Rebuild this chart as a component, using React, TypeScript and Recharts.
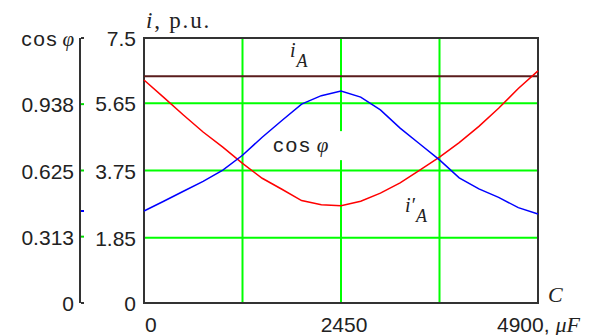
import React from 'react';
import {
  ComposedChart,
  Line,
  XAxis,
  YAxis,
  CartesianGrid,
  ReferenceArea,
  ReferenceLine,
  ReferenceDot,
} from 'recharts';

// capacitance C, µF
const capacitance = [0, 245, 490, 735, 980, 1225, 1470, 1715, 1960, 2205, 2450, 2695, 2940, 3185, 3430, 3675, 3920, 4165, 4410, 4655, 4900];
// line current after compensation i'A, p.u.
const currentPrime = [6.31, 5.82, 5.32, 4.84, 4.41, 3.95, 3.53, 3.22, 2.9, 2.78, 2.75, 2.88, 3.11, 3.4, 3.76, 4.13, 4.54, 5.0, 5.51, 6.07, 6.57];
// power factor cos φ
const powerFactor = [0.434, 0.48, 0.527, 0.574, 0.627, 0.697, 0.782, 0.861, 0.938, 0.978, 1.0, 0.971, 0.911, 0.825, 0.75, 0.675, 0.59, 0.538, 0.498, 0.45, 0.42];
// load current iA, p.u.
const supplyCurrent = 6.42;

const xTicks = [0, 1225, 2450, 3675, 4900];
const xTickLabels = ['0', '', '2450', '', '4900, '];
const currentTicks = [0, 1.85, 3.75, 5.65, 7.5];
const currentTickLabels = ['0', '1.85', '3.75', '5.65', '7.5'];
const cosTicks = [0, 0.313, 0.625, 0.938, 1.25];
const cosTickLabels = ['0', '0.313', '0.625', '0.938', 'cos'];

const rows = capacitance.map((c, i) => ({ c, iPrime: currentPrime[i], cosPhi: powerFactor[i] }));

const SANS = '"Liberation Sans", Arial, sans-serif';
const SERIF = '"Liberation Serif", "Times New Roman", serif';
const TEXT = '#222';

const XTick = ({ x, y, payload }: any) => {
  const idx = xTicks.indexOf(payload.value);
  const label = xTickLabels[idx];
  if (!label) return <g />;
  if (idx === xTicks.length - 1) {
    return (
      <text x={x - 41} y={y + 29} fontFamily={SANS} fontSize={21} fill={TEXT}>
        {label}
        <tspan fontFamily={SERIF} fontStyle="italic" fontSize={22}>μF</tspan>
      </text>
    );
  }
  return (
    <text x={idx === 0 ? x + 1 : x + 3} y={y + 29} textAnchor={idx === 0 ? 'start' : 'middle'} fontFamily={SANS} fontSize={21} fill={TEXT}>
      {label}
    </text>
  );
};

const CurrentTick = ({ x, y, payload }: any) => {
  const idx = currentTicks.indexOf(payload.value);
  return (
    <text x={x - 8} y={y + 8} textAnchor="end" fontFamily={SANS} fontSize={21} fill={TEXT}>
      {currentTickLabels[idx]}
    </text>
  );
};

const CosTick = ({ x, y, payload }: any) => {
  const v = payload.value;
  // start value of cos φ is marked on the axis in the curve colour
  if (v === powerFactor[0]) {
    return <line x1={x + 1} x2={x + 4} y1={y} y2={y} stroke="#0000ff" strokeWidth={2} />;
  }
  const idx = cosTicks.indexOf(v);
  const edge = idx === 0 || idx === cosTicks.length - 1;
  return (
    <g>
      <line x1={x + 1} x2={x + 4} y1={y} y2={y} stroke={edge ? '#333' : '#00dd00'} strokeWidth={2} />
      <text x={x - 6} y={y + 8} textAnchor="end" fontFamily={SANS} fontSize={21} fill={TEXT}>
        <tspan letterSpacing={edge && idx > 0 ? 1.5 : 0}>{cosTickLabels[idx]}</tspan>
        {edge && idx > 0 && (
          <tspan fontFamily={SERIF} fontStyle="italic" dx={4}>φ</tspan>
        )}
      </text>
    </g>
  );
};

const CurrentTitle = ({ viewBox }: any) => (
  <text x={viewBox.x + viewBox.width + 2} y={viewBox.y - 10} fontFamily={SERIF} fontSize={23} letterSpacing={1.8} fill={TEXT}>
    <tspan fontStyle="italic">i</tspan>, p.u.
  </text>
);

const AxisC = ({ viewBox }: any) => (
  <text x={viewBox.x + viewBox.width + 10} y={viewBox.y - 1} fontFamily={SERIF} fontStyle="italic" fontSize={22} fill={TEXT}>
    C
  </text>
);

const SubscriptLabel = ({ cx, cy, prime }: any) => (
  <text x={cx} y={cy} fontFamily={SERIF} fontStyle="italic" fontSize={20} fill={TEXT}>
    i{prime ? '′' : ''}
    <tspan dx={1} dy={10} fontSize={18}>A</tspan>
  </text>
);

const CosLabel = ({ cx, cy }: any) => (
  <g>
    <rect x={cx + 1} y={cy - 21} width={70} height={29} fill="#fff" />
    <text x={cx} y={cy} fontFamily={SANS} fontSize={21} fill={TEXT}>
      <tspan letterSpacing={2}>cos</tspan>
      <tspan fontFamily={SERIF} fontStyle="italic" dx={5}>φ</tspan>
    </text>
  </g>
);

export default function App() {
  return (
    <div style={{ width: 601, height: 327, background: '#fff' }}>
      <ComposedChart width={601} height={327} data={rows} margin={{ top: 30, right: 71, bottom: 0, left: 0 }}>
        <CartesianGrid yAxisId="current" stroke="#00ff00" strokeWidth={2} />
        <XAxis
          dataKey="c"
          type="number"
          domain={[0, 4900]}
          ticks={xTicks}
          interval={0}
          height={32}
          axisLine={false}
          tickLine={false}
          tickSize={0}
          tickMargin={0}
          tick={<XTick />}
          label={{ content: <AxisC /> }}
        />
        <YAxis
          yAxisId="current"
          type="number"
          domain={[0, 7.5]}
          ticks={currentTicks}
          interval={0}
          width={64}
          axisLine={false}
          tickLine={false}
          tickSize={0}
          tickMargin={0}
          tick={<CurrentTick />}
          label={{ content: <CurrentTitle /> }}
        />
        <YAxis
          yAxisId="pf"
          type="number"
          domain={[0, 1.25]}
          ticks={[...cosTicks, powerFactor[0]]}
          interval={0}
          width={72}
          axisLine={{ stroke: '#333', strokeWidth: 2 }}
          tickLine={false}
          tickSize={0}
          tickMargin={0}
          tick={<CosTick />}
        />
        <ReferenceDot yAxisId="current" x={1604} y={4.27} r={1} shape={(p: any) => <CosLabel {...p} />} />
        <ReferenceDot yAxisId="current" x={1816} y={6.96} r={1} shape={(p: any) => <SubscriptLabel {...p} />} />
        <ReferenceDot yAxisId="current" x={3246} y={2.58} r={1} shape={(p: any) => <SubscriptLabel {...p} prime />} />
        <ReferenceLine yAxisId="current" y={supplyCurrent} stroke="#5a1c1c" strokeWidth={2} />
        <Line yAxisId="current" dataKey="iPrime" type="linear" stroke="#ff0000" strokeWidth={1.5} dot={false} isAnimationActive={false} />
        <Line yAxisId="pf" dataKey="cosPhi" type="linear" stroke="#0000ff" strokeWidth={1.5} dot={false} isAnimationActive={false} />
        <ReferenceArea yAxisId="current" x1={0} x2={4900} y1={0} y2={7.5} fill="none" stroke="#333" strokeWidth={2} />
      </ComposedChart>
    </div>
  );
}
